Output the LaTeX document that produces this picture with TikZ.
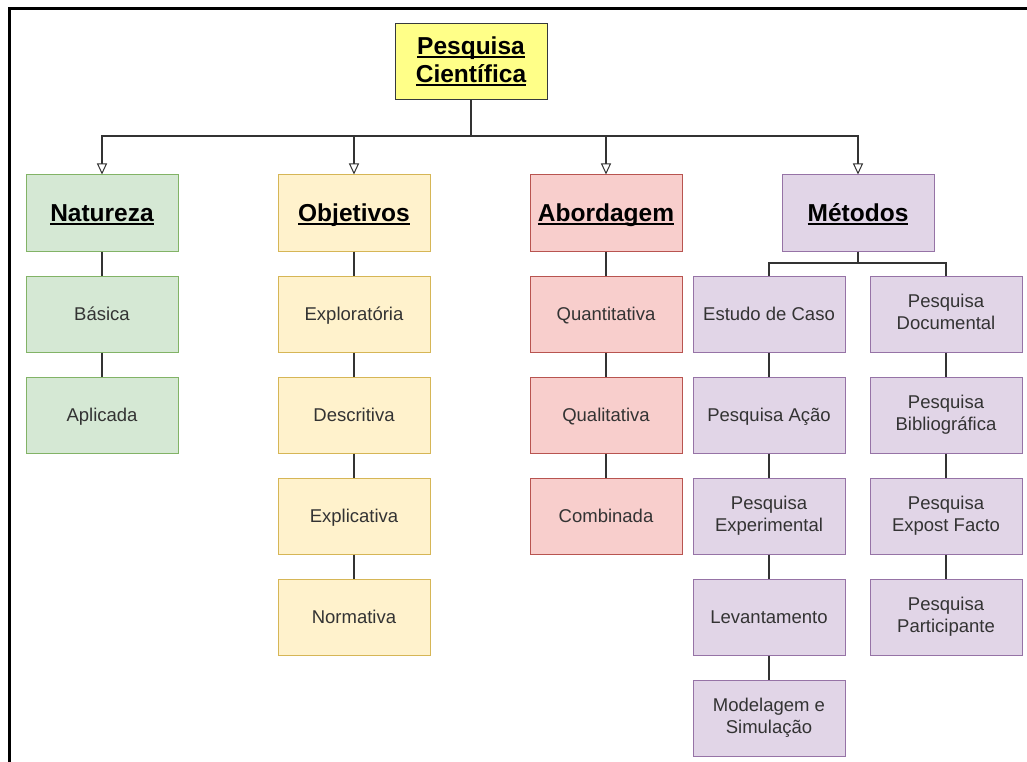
\documentclass[tikz,border=0pt]{standalone}
\usepackage{fontspec}
\setmainfont{Liberation Sans}
\usetikzlibrary{arrows.meta}

\definecolor{rootfill}{HTML}{FFFF88}
\definecolor{rootline}{HTML}{36393D}
\definecolor{natfill}{HTML}{D5E8D4}
\definecolor{natline}{HTML}{82B366}
\definecolor{objfill}{HTML}{FFF2CC}
\definecolor{objline}{HTML}{D6B656}
\definecolor{abofill}{HTML}{F8CECC}
\definecolor{aboline}{HTML}{B85450}
\definecolor{metfill}{HTML}{E1D5E7}
\definecolor{metline}{HTML}{9673A6}
\definecolor{labeltext}{HTML}{333333}
\definecolor{connline}{HTML}{333333}

% underline drawn just under the baseline, crossing the descenders
\newcommand\myul[1]{\setbox0\hbox{#1}\rlap{\rule[-4pt]{\wd0}{2pt}}\box0}

\begin{document}
\begin{tikzpicture}[x=1pt,y=-1pt,
  cell/.style={draw, line width=1pt, minimum width=152pt, minimum height=76pt,
    inner sep=2pt, align=center, text=labeltext,
    font=\fontsize{18.5}{22}\selectfont,
    execute at begin node={\vphantom{Áq}}},
  header/.style={cell, text=black, font=\bfseries\fontsize{24.5}{28}\selectfont},
  natbox/.style={fill=natfill, draw=natline},
  objbox/.style={fill=objfill, draw=objline},
  abobox/.style={fill=abofill, draw=aboline},
  metbox/.style={fill=metfill, draw=metline},
  rootbox/.style={header, fill=rootfill, draw=rootline},
  conn/.style={draw=connline, line width=1.3pt},
  arrowconn/.style={conn, -{Triangle[open, length=11pt, width=10pt, line width=1pt]}}
]
\useasboundingbox (0,0) rectangle (1027,762);
\fill[white] (0,0) rectangle (1027,762);

% window frame along the top and left edges
\draw[line width=3pt, line cap=rect] (9.5,762) -- (9.5,8.5) -- (1027,8.5);

% root
\node[rootbox] (root) at (471,62) {\myul{Pesquisa}\\\myul{Científica}};

% first level
\node[header, natbox] (nat) at (102,213) {\myul{Natureza}};
\node[header, objbox] (obj) at (354,213) {\myul{Objetivos}};
\node[header, abobox] (abo) at (606,213) {\myul{Abordagem}};
\node[header, metbox] (met) at (858,213) {\myul{Métodos}};

% Natureza
\node[cell, natbox] (nat1) at (102,314) {Básica};
\node[cell, natbox] (nat2) at (102,415) {Aplicada};

% Objetivos
\node[cell, objbox] (obj1) at (354,314) {Exploratória};
\node[cell, objbox] (obj2) at (354,415) {Descritiva};
\node[cell, objbox] (obj3) at (354,516) {Explicativa};
\node[cell, objbox] (obj4) at (354,617) {Normativa};

% Abordagem
\node[cell, abobox] (abo1) at (606,314) {Quantitativa};
\node[cell, abobox] (abo2) at (606,415) {Qualitativa};
\node[cell, abobox] (abo3) at (606,516) {Combinada};

% Métodos, left column
\node[cell, metbox] (ma1) at (769,314) {Estudo de Caso};
\node[cell, metbox] (ma2) at (769,415) {Pesquisa Ação};
\node[cell, metbox] (ma3) at (769,516) {Pesquisa\\Experimental};
\node[cell, metbox] (ma4) at (769,617) {Levantamento};
\node[cell, metbox] (ma5) at (769,718) {Modelagem e\\Simulação};

% Métodos, right column
\node[cell, metbox] (mb1) at (946,314) {Pesquisa\\Documental};
\node[cell, metbox] (mb2) at (946,415) {Pesquisa\\Bibliográfica};
\node[cell, metbox] (mb3) at (946,516) {Pesquisa\\Expost Facto};
\node[cell, metbox] (mb4) at (946,617) {Pesquisa\\Participante};

% root to first level
\coordinate (hub) at (471,136);
\foreach \n in {nat,obj,abo,met}
  \draw[arrowconn] (root.south) -- (hub) -| (\n.north);

% Métodos fork
\coordinate (mhub) at (858,263);
\draw[conn] (met.south) -- (mhub) -| (ma1.north);
\draw[conn] (met.south) -- (mhub) -| (mb1.north);

% vertical chains
\draw[conn] (nat.south) -- (nat1.north);
\draw[conn] (nat1.south) -- (nat2.north);
\draw[conn] (obj.south) -- (obj1.north);
\draw[conn] (obj1.south) -- (obj2.north);
\draw[conn] (obj2.south) -- (obj3.north);
\draw[conn] (obj3.south) -- (obj4.north);
\draw[conn] (abo.south) -- (abo1.north);
\draw[conn] (abo1.south) -- (abo2.north);
\draw[conn] (abo2.south) -- (abo3.north);
\draw[conn] (ma1.south) -- (ma2.north);
\draw[conn] (ma2.south) -- (ma3.north);
\draw[conn] (ma3.south) -- (ma4.north);
\draw[conn] (ma4.south) -- (ma5.north);
\draw[conn] (mb1.south) -- (mb2.north);
\draw[conn] (mb2.south) -- (mb3.north);
\draw[conn] (mb3.south) -- (mb4.north);
\end{tikzpicture}
\end{document}
